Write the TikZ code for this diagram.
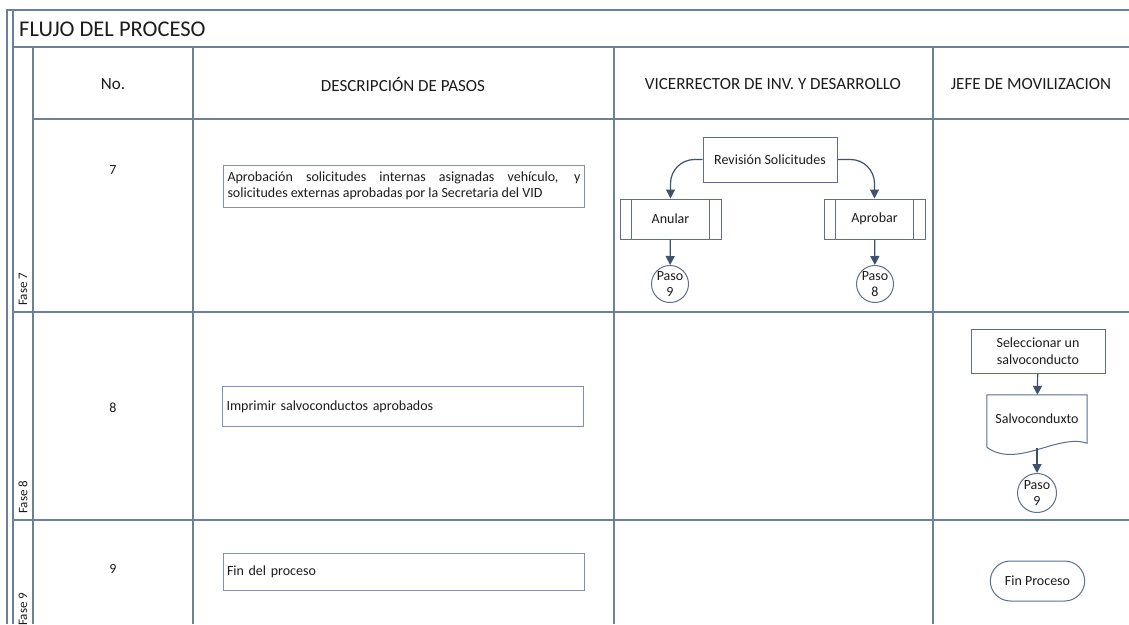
\documentclass[tikz,border=0pt]{standalone}
\usepackage{fontspec}
\setmainfont{Carlito}
\usetikzlibrary{arrows.meta,calc,shapes.misc}
\definecolor{gridc}{RGB}{108,128,152}
\definecolor{shapec}{RGB}{92,112,138}
\definecolor{boxc}{RGB}{128,145,168}
\definecolor{arrc}{RGB}{62,82,108}
\definecolor{txtc}{RGB}{28,28,28}
\tikzset{
  grid/.style={draw=gridc, line width=1.1pt},
  titletext/.style={font=\fontsize{22.5}{25}\selectfont},
  hdr/.style={font=\fontsize{17}{20}\selectfont},
  fase/.style={font=\fontsize{13}{15}\selectfont, rotate=90, anchor=west, inner sep=1pt},
  num/.style={font=\fontsize{14}{16}\selectfont},
  body/.style={font=\fontsize{14}{16.5}\selectfont},
  descbox/.style={body, draw=boxc, line width=1pt, rectangle, minimum height=40pt,
    text width=353pt, align=left, inner xsep=4pt},
  procbox/.style={body, draw=shapec, line width=1pt, rectangle, align=center},
  predef/.style={procbox, minimum width=101pt, minimum height=40pt},
  conn/.style={draw=shapec, line width=1pt, circle, minimum size=37pt,
    inner sep=0pt, align=center, font=\fontsize{14}{15.5}\selectfont},
  term/.style={procbox, rounded rectangle, minimum width=101pt, minimum height=40pt},
  arr/.style={draw=arrc, line width=1.2pt, -{Triangle[length=9pt,width=9pt]}},
}
\begin{document}
\begin{tikzpicture}[x=1pt,y=-1pt, every node/.style={text=txtc}]
\useasboundingbox (0,0) rectangle (1129,624);
\fill[white] (0,0) rectangle (1129,624);
\begin{scope}
\clip (0,0) rectangle (1129,624);

% table frame
\draw[grid] (7,624) -- (7,10) -- (1129,10);
\draw[grid] (13,10) -- (13,624);
\draw[grid] (13,47) -- (1129,47);
\draw[grid] (33,47) -- (33,624);
\draw[grid] (193,47) -- (193,624);
\draw[grid] (614,47) -- (614,624);
\draw[grid] (933,47) -- (933,624);
\draw[grid] (33,119) -- (1129,119);
\draw[grid] (13,312) -- (1129,312);
\draw[grid] (13,520) -- (1129,520);

% title and column headers
\node[titletext, anchor=west, inner sep=0pt] (title) at (19,29) {FLUJO DEL PROCESO};
\node[hdr] (hno) at (113,84) {No.};
\node[hdr] (hdesc) at (403,84) {DESCRIPCIÓN DE PASOS};
\node[hdr] (hvic) at (773,84) {VICERRECTOR DE INV. Y DESARROLLO};
\node[hdr] (hjefe) at (1031,84) {JEFE DE MOVILIZACION};

% phase labels
\node[fase] (f7) at (23,307) {Fase 7};
\node[fase] (f8) at (23,515) {Fase 8};
\node[fase] (f9) at (23,627) {Fase 9};

% step numbers
\node[num] (n7) at (113,170) {7};
\node[num] (n8) at (113,408) {8};
\node[num] (n9) at (113,569) {9};

% step descriptions
\node[descbox, align=justify, minimum height=42pt] (d7) at (404,186)
  {Aprobación solicitudes internas asignadas vehículo, y\linebreak solicitudes externas aprobadas por la Secretaria del VID};
\node[descbox] (d8) at (403,406.5) {Imprimir salvoconductos aprobados};
\node[descbox, minimum height=37pt] (d9) at (403.5,571.5) {Fin del proceso};

% phase 7: review of requests
\node[procbox, minimum width=134pt, minimum height=45pt] (rev) at (770,159.5) {Revisión Solicitudes};
\node[predef] (anular) at (670.5,219) {Anular};
\node[predef] (aprobar) at (874.5,219) {Aprobar};
\draw[draw=shapec, line width=1pt] ([xshift=12pt]anular.north west) -- ([xshift=12pt]anular.south west)
  ([xshift=-12pt]anular.north east) -- ([xshift=-12pt]anular.south east);
\draw[draw=shapec, line width=1pt] ([xshift=12pt]aprobar.north west) -- ([xshift=12pt]aprobar.south west)
  ([xshift=-12pt]aprobar.north east) -- ([xshift=-12pt]aprobar.south east);
\node[conn] (p9a) at (670,284) {Paso\\9};
\node[conn] (p8) at (875,284) {Paso\\8};
\draw[arr, rounded corners=24pt] (rev.west) -| (anular.north);
\draw[arr, rounded corners=24pt] (rev.east) -| (aprobar.north);
\draw[arr] (anular) -- (p9a);
\draw[arr] (aprobar) -- (p8);

% phase 8: safe-conduct printing
\node[procbox, minimum width=134pt, minimum height=44pt] (sel) at (1038,351) {Seleccionar un\\salvoconducto};
\node[body, minimum width=100pt, minimum height=52pt, inner sep=0pt] (doc) at (1037,421) {\raisebox{5pt}{Salvoconduxto}};
\draw[draw=shapec, line width=1pt]
  (doc.south west) -- (doc.north west) -- (doc.north east) -- ([yshift=4pt]doc.south east)
  .. controls ([xshift=-30pt,yshift=14pt]doc.south east) and ([xshift=30pt,yshift=-22pt]doc.south west) ..
  (doc.south west);
\node[conn, minimum size=39pt] (p9b) at (1037,493) {Paso\\9};
\draw[arr] (sel) -- (doc);
\draw[arr] ([yshift=-1pt]doc.south) -- (p9b);

% phase 9: end
\node[term] (fin) at (1037.5,581) {Fin Proceso};
\end{scope}
\end{tikzpicture}
\end{document}
